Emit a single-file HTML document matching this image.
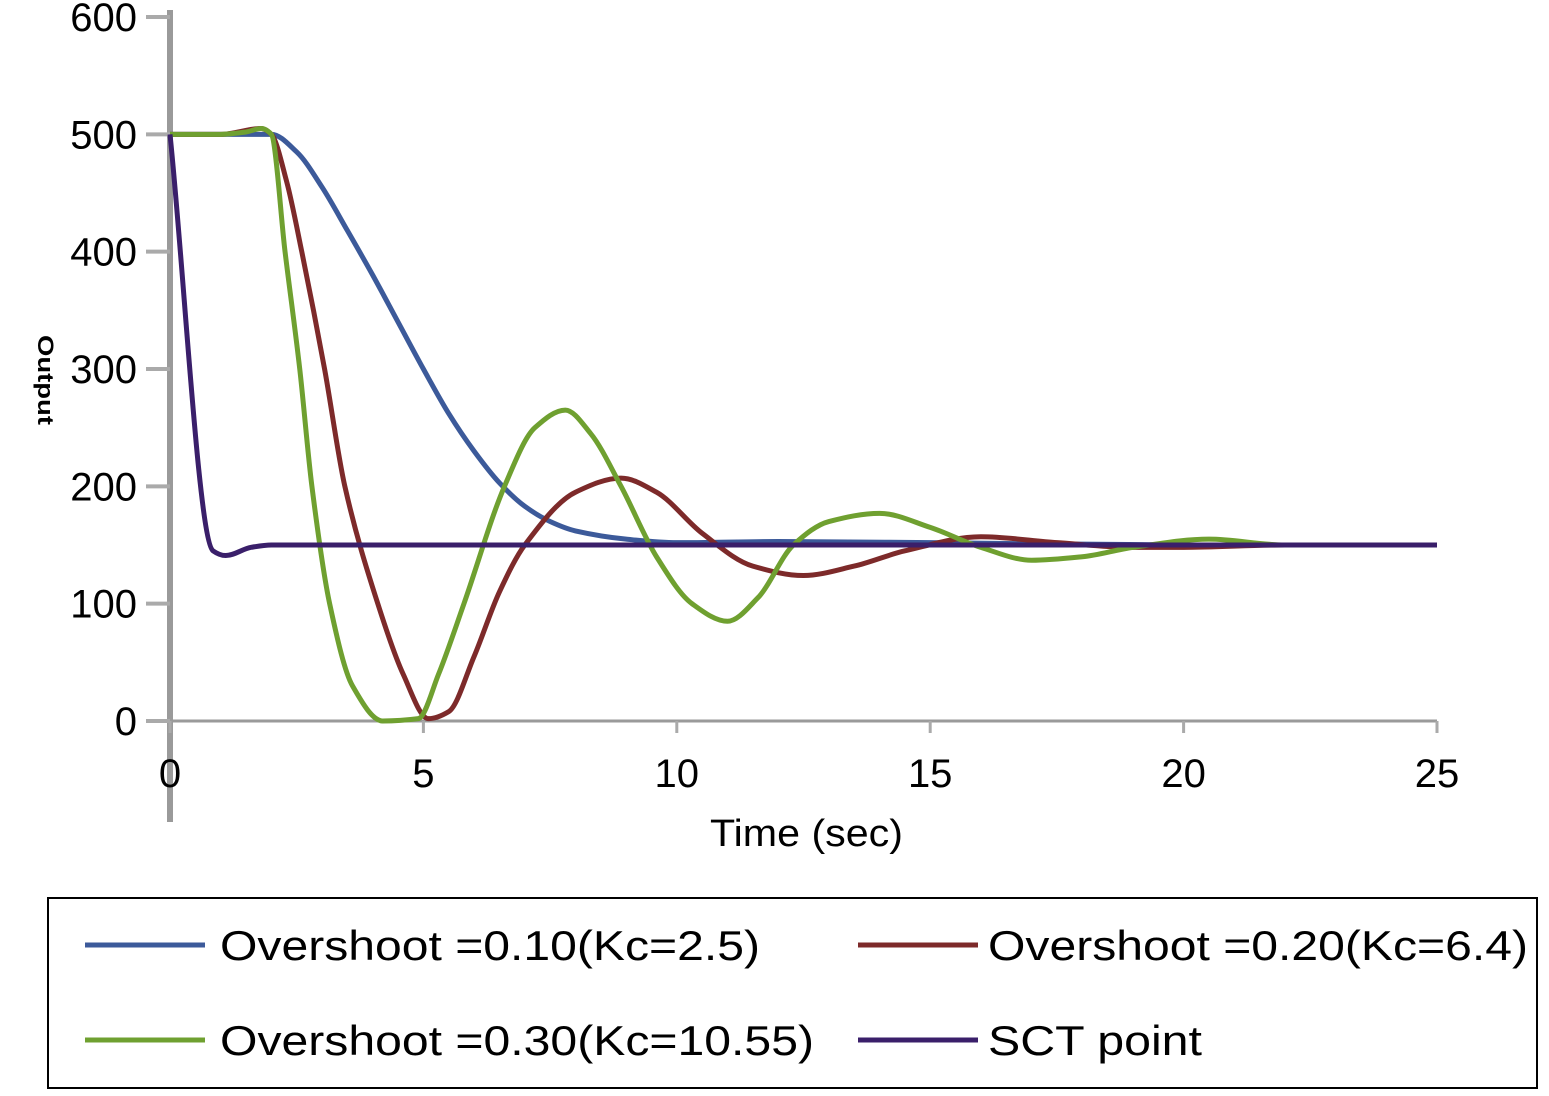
<!DOCTYPE html>
<html><head><meta charset="utf-8"><style>
body{margin:0;background:#fff;}
svg text{font-family:"Liberation Sans",Arial,sans-serif;}
</style></head><body>
<svg id="chart" width="1549" height="1091" viewBox="0 0 1549 1091" xmlns="http://www.w3.org/2000/svg">
<g id="axes"></g>
<g id="series"></g>
<text x="710" y="846" font-size="38" textLength="193" lengthAdjust="spacingAndGlyphs">Time (sec)</text>
<text transform="translate(38,380) rotate(90)" font-size="22" font-weight="bold" text-anchor="middle" textLength="90" lengthAdjust="spacingAndGlyphs">Output</text>
<g>
<rect x="48" y="898" width="1489" height="190" fill="#fff" stroke="#000" stroke-width="2"/>
<line x1="85" y1="945" x2="205" y2="945" stroke="#3c5a9a" stroke-width="5"/>
<text x="220" y="960" font-size="42" textLength="540" lengthAdjust="spacingAndGlyphs">Overshoot =0.10(Kc=2.5)</text>
<line x1="858" y1="945" x2="978" y2="945" stroke="#7d2a2a" stroke-width="5"/>
<text x="988" y="960" font-size="42" textLength="540" lengthAdjust="spacingAndGlyphs">Overshoot =0.20(Kc=6.4)</text>
<line x1="85" y1="1040" x2="205" y2="1040" stroke="#6fa030" stroke-width="5"/>
<text x="220" y="1055" font-size="42" textLength="594" lengthAdjust="spacingAndGlyphs">Overshoot =0.30(Kc=10.55)</text>
<line x1="858" y1="1040" x2="978" y2="1040" stroke="#3a1f6a" stroke-width="5"/>
<text x="988" y="1055" font-size="42" textLength="214" lengthAdjust="spacingAndGlyphs">SCT point</text>
</g>
</svg>
<script>
const xTicks=[0,5,10,15,20,25];
const yTicks=[0,100,200,300,400,500,600];
const blueT=[0,1,2,2.5,3,3.5,4,4.5,5,5.5,6,6.5,7,7.5,8,9,10,12,15,20,25];
const blueV=[500,500,500,485,455,418,380,340,300,262,230,203,183,170,162,155,152,153,152,150,150];
const redT=[0,1,1.8,2,2.3,2.6,3.05,3.45,4.1,4.6,5.1,5.5,6,6.5,7,8,8.9,9.6,10.5,11.5,12.5,13.5,14.5,16,17.5,19,20,22,25];
const redV=[500,500,505,500,460,400,300,200,100,40,2,8,55,110,150,195,207,195,160,132,124,132,145,157,152,148,148,150,150];
const greenT=[0,1,1.5,1.8,2,2.27,2.56,2.8,3.15,3.6,4.2,4.9,5.3,5.8,6.6,7.2,7.8,8.3,8.9,9.6,10.3,11,11.6,12.3,13,14,15,16,17,18,19,20.5,22,25];
const greenV=[500,500,502,505,500,400,300,200,100,30,0,2,40,100,200,250,265,245,200,140,100,85,105,150,170,177,165,148,137,140,148,155,150,150];
const sctT=[0,0.85,1.1,1.6,2,5,10,15,20,25];
const sctV=[500,145,141,148,150,150,150,150,150,150];
const sx=t=>170+t*(1437-170)/25;
const sy=v=>721-v*(704/600);
const NS="http://www.w3.org/2000/svg";
function mk(tag,attrs,parent){const e=document.createElementNS(NS,tag);for(const k in attrs)e.setAttribute(k,attrs[k]);parent.appendChild(e);return e;}
const axes=document.getElementById('axes');
const ya=mk('line',{x1:170,y1:10,x2:170,y2:822,stroke:'#9a9a9a','stroke-width':6},axes);


const xa=mk('line',{x1:146,y1:721,x2:1437,y2:721,stroke:'#9a9a9a','stroke-width':3},axes);


yTicks.forEach(v=>{
 const tl=mk('line',{x1:146,y1:sy(v),x2:170,y2:sy(v),stroke:'#aaa','stroke-width':4},axes);
 
 
 const t=mk('text',{x:137,y:sy(v)+14,'font-size':40,'text-anchor':'end'},axes);
 t.textContent=v;
 
 
});
xTicks.forEach(v=>{
 const tl=mk('line',{x1:sx(v),y1:721,x2:sx(v),y2:733,stroke:'#aaa','stroke-width':3},axes);
 
 
 const t=mk('text',{x:sx(v),y:787,'font-size':40,'text-anchor':'middle'},axes);
 t.textContent=v;
 
 
});
function pathD(T,V){
 const p=T.map((t,i)=>[sx(t),sy(V[i])]);
 const n=p.length,d=[],m=[];
 for(let i=0;i<n-1;i++)d.push((p[i+1][1]-p[i][1])/(p[i+1][0]-p[i][0]));
 m[0]=d[0];m[n-1]=d[n-2];
 for(let i=1;i<n-1;i++){m[i]=(d[i-1]*d[i]<=0)?0:2/(1/d[i-1]+1/d[i]);}
 let s='M'+p[0][0]+','+p[0][1];
 for(let i=0;i<n-1;i++){
  const h=(p[i+1][0]-p[i][0])/3;
  s+=' C'+(p[i][0]+h)+','+(p[i][1]+m[i]*h)+' '+(p[i+1][0]-h)+','+(p[i+1][1]-m[i+1]*h)+' '+p[i+1][0]+','+p[i+1][1];
 }
 return s;
}
const g=document.getElementById('series');
const s1=mk('path',{d:pathD(blueT,blueV),fill:'none',stroke:'#3c5a9a','stroke-width':5},g);


const s2=mk('path',{d:pathD(redT,redV),fill:'none',stroke:'#7d2a2a','stroke-width':5},g);


const s3=mk('path',{d:pathD(greenT,greenV),fill:'none',stroke:'#6fa030','stroke-width':5},g);


const s4=mk('path',{d:pathD(sctT,sctV),fill:'none',stroke:'#3a1f6a','stroke-width':5},g);


</script>
</body></html>
